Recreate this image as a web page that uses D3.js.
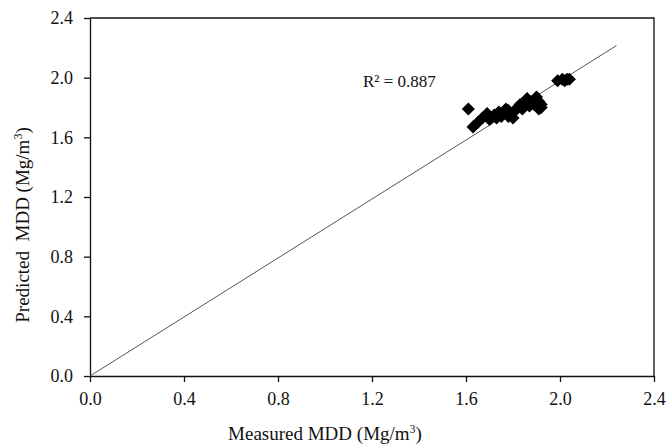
<!DOCTYPE html>
<html>
<head>
<meta charset="utf-8">
<script src="https://cdn.jsdelivr.net/npm/d3@7"></script>
<style>
  body { margin: 0; background: #fff; }
  svg text { font-family: "Liberation Serif", "Times New Roman", serif !important; fill: #111; }
</style>
</head>
<body>
<div id="chart"></div>
<script>
// measured vs predicted MDD (Mg/m3)
var measured = [1.61, 1.63, 1.65, 1.67, 1.69, 1.70, 1.72, 1.73, 1.74, 1.75, 1.76, 1.77, 1.78, 1.78, 1.79, 1.80, 1.81, 1.82, 1.83, 1.84, 1.85, 1.86, 1.87, 1.88, 1.89, 1.90, 1.91, 1.91, 1.92, 1.92, 1.99, 2.01, 2.02, 2.03, 2.04];
var predicted = [1.79, 1.67, 1.70, 1.73, 1.76, 1.72, 1.75, 1.73, 1.77, 1.74, 1.76, 1.79, 1.74, 1.78, 1.76, 1.73, 1.78, 1.80, 1.82, 1.79, 1.83, 1.86, 1.81, 1.84, 1.82, 1.87, 1.79, 1.84, 1.80, 1.82, 1.98, 1.99, 1.98, 1.99, 1.99];
var fitLine = [[0, 0], [2.24, 2.215]];
var ticks = [0, 0.4, 0.8, 1.2, 1.6, 2.0, 2.4];
var r2Label = "R\u00B2 = 0.887";

var svgWidth = 667;
var svgHeight = 445;
var margin = { top: 18, right: 13, bottom: 69, left: 90 };
var width = svgWidth - margin.left - margin.right;
var height = svgHeight - margin.top - margin.bottom;

var svg = d3.select("#chart")
  .append("svg")
  .attr("width", svgWidth)
  .attr("height", svgHeight);

var chartGroup = svg.append("g")
  .attr("transform", `translate(${margin.left},${margin.top})`);

var xScale = d3.scaleLinear().domain([0, 2.4]).range([0, width]);
var yScale = d3.scaleLinear().domain([0, 2.4]).range([height, 0]);

// frame (top + right)
chartGroup.append("path")
  .attr("d", `M0,0H${width}V${height}`)
  .attr("fill", "none")
  .attr("stroke", "#111")
  .attr("stroke-width", 1.3);

var bottomAxis = d3.axisBottom(xScale)
  .tickValues(ticks)
  .tickFormat(d3.format(".1f"))
  .tickSizeInner(6)
  .tickSizeOuter(0)
  .tickPadding(10);
var leftAxis = d3.axisLeft(yScale)
  .tickValues(ticks)
  .tickFormat(d3.format(".1f"))
  .tickSizeInner(6)
  .tickSizeOuter(0)
  .tickPadding(11);

var xg = chartGroup.append("g")
  .attr("transform", `translate(0,${height})`)
  .call(bottomAxis);
var yg = chartGroup.append("g")
  .call(leftAxis);

[xg, yg].forEach(g => {
  g.attr("font-family", null);
  g.select(".domain").attr("stroke", "#111").attr("stroke-width", 1.3);
  g.selectAll(".tick line").attr("stroke", "#111").attr("stroke-width", 1.3);
  g.selectAll(".tick text")
    .style("font-size", "18px")
    .attr("fill", "#111");
});

// fit line
var line = d3.line().x(d => xScale(d[0])).y(d => yScale(d[1]));
chartGroup.append("path")
  .datum(fitLine)
  .attr("d", line)
  .attr("fill", "none")
  .attr("stroke", "#555")
  .attr("stroke-width", 1);

// points (diamonds)
var diamond = d3.symbol().type(d3.symbolSquare).size(85);
chartGroup.selectAll(".pt")
  .data(measured.map((m, i) => [m, predicted[i]]))
  .enter()
  .append("path")
  .attr("class", "pt")
  .attr("d", diamond)
  .attr("transform", d => `translate(${xScale(d[0])},${yScale(d[1])}) rotate(45)`)
  .attr("fill", "#000");

chartGroup.append("text")
  .attr("x", 273)
  .attr("y", 69)
  .style("font-size", "17px")
  .text(r2Label);

// axis titles
var xt = svg.append("text")
  .attr("x", 325)
  .attr("y", 440)
  .attr("text-anchor", "middle")
  .style("font-size", "19px");
xt.append("tspan").text("Measured MDD (Mg/m");
xt.append("tspan").style("font-size", "12px").attr("dy", "-7").text("3");
xt.append("tspan").attr("dy", "7").text(")");

var yt = svg.append("text")
  .attr("transform", "translate(29,225) rotate(-90)")
  .attr("text-anchor", "middle")
  .style("font-size", "19px")
  .style("white-space", "pre");
yt.append("tspan").text("Predicted  MDD (Mg/m");
yt.append("tspan").style("font-size", "12px").attr("dy", "-7").text("3");
yt.append("tspan").attr("dy", "7").text(")");
</script>
</body>
</html>
